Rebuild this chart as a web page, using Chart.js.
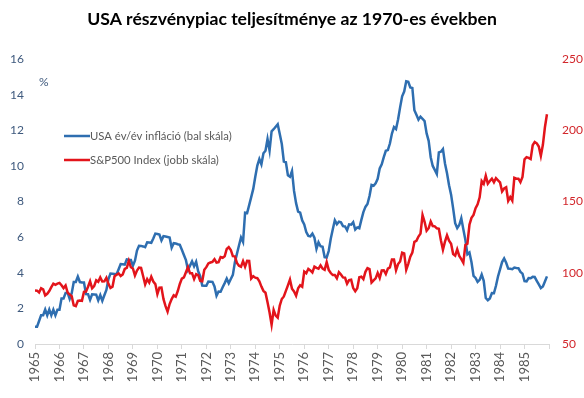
<!DOCTYPE html>
<html>
<head>
<meta charset="utf-8">
<script src="https://cdn.jsdelivr.net/npm/chart.js@4/dist/chart.umd.min.js"></script>
<style>
html,body{margin:0;padding:0;background:#fff;}
#wrap{width:584px;height:398px;position:relative;}
</style>
</head>
<body>
<div id="wrap"><canvas id="c" width="584" height="398"></canvas></div>
<script>
// ---- data (monthly, Jan 1965 .. Dec 1985) ----
const startYear = 1965;
const xTickYears = [1965,1966,1967,1968,1969,1970,1971,1972,1973,1974,1975,1976,1977,1978,1979,1980,1981,1982,1983,1984,1985];
const titleText = 'USA részvénypiac teljesítménye az 1970-es években';
const seriesNames = ['USA év/év infláció (bal skála)', 'S&P500 Index (jobb skála)'];

// USA y/y inflation, %
const inflation = [
 0.97,0.97,1.29,1.62,1.62,1.94,1.61,1.94,1.61,1.93,1.61,1.92,
 1.92,2.56,2.56,2.87,2.87,2.53,2.85,3.48,3.48,3.79,3.48,3.46,
 3.46,2.81,2.80,2.48,2.79,2.78,2.77,2.45,2.75,2.43,2.74,3.04,
 3.65,3.95,3.94,3.93,3.92,4.20,4.49,4.48,4.46,4.75,4.73,4.72,
 4.40,4.68,5.25,5.52,5.51,5.48,5.44,5.71,5.70,5.68,5.93,6.20,
 6.18,6.15,5.82,6.06,6.04,6.01,5.98,5.41,5.66,5.64,5.60,5.57,
 5.29,5.00,4.71,4.16,4.40,4.64,4.36,4.62,4.08,3.81,3.28,3.27,
 3.27,3.51,3.50,3.49,3.23,2.71,2.95,2.94,3.19,3.42,3.67,3.41,
 3.65,3.88,4.59,5.06,5.53,5.98,5.73,7.38,7.36,7.80,8.25,8.71,
 9.39,10.02,10.39,10.09,10.71,10.86,11.51,10.86,11.95,12.06,12.20,12.34,
 11.80,11.23,10.25,10.21,9.47,9.39,9.72,8.60,7.91,7.44,7.38,6.94,
 6.72,6.29,6.07,6.05,6.20,5.97,5.35,5.71,5.49,5.46,4.88,4.86,
 5.22,5.91,6.44,6.95,6.73,6.87,6.83,6.62,6.60,6.39,6.72,6.70,
 6.84,6.43,6.55,6.50,6.97,7.41,7.70,7.86,8.31,8.93,8.89,9.02,
 9.28,9.86,10.09,10.49,10.85,10.89,11.26,11.82,12.18,12.07,12.61,13.29,
 13.91,14.18,14.76,14.73,14.41,14.38,13.13,12.87,12.60,12.77,12.65,12.52,
 11.83,11.41,10.49,10.00,9.78,9.55,10.76,10.80,10.95,10.14,9.59,8.92,
 8.39,7.62,6.78,6.51,6.68,7.06,6.44,5.85,5.04,5.14,4.59,3.83,
 3.71,3.49,3.60,3.90,3.55,2.58,2.46,2.56,2.86,2.85,3.27,3.79,
 4.19,4.60,4.80,4.56,4.23,4.22,4.20,4.29,4.27,4.26,4.05,3.95,
 3.53,3.52,3.70,3.69,3.77,3.76,3.55,3.35,3.14,3.23,3.51,3.80
];

// S&P500 index, monthly close
const sp500 = [
 87.56,87.43,86.16,89.11,88.42,84.12,85.25,87.17,89.96,92.42,91.61,92.43,
 92.88,91.22,89.23,91.06,86.13,84.74,83.60,77.10,76.56,80.20,80.45,80.33,
 86.61,86.78,90.20,94.01,89.08,90.64,94.75,93.64,96.71,93.90,94.00,96.47,
 92.24,89.36,90.20,97.59,98.68,99.58,97.74,98.86,102.67,103.41,108.37,103.86,
 103.01,98.13,101.51,103.69,103.46,97.71,91.83,95.51,93.12,97.24,93.81,92.06,
 85.02,89.50,89.63,81.52,76.55,72.72,78.05,81.52,84.21,83.25,87.20,92.15,
 95.88,96.75,100.31,103.95,99.63,99.70,95.58,99.03,98.34,94.23,93.99,102.09,
 103.94,106.57,107.20,107.67,109.53,107.14,107.39,111.09,110.55,111.58,116.67,118.05,
 116.03,111.68,111.52,106.97,104.95,104.26,108.22,104.25,108.43,108.29,95.96,97.55,
 96.57,96.22,93.98,90.31,87.28,86.00,79.31,72.15,63.54,73.90,69.97,68.56,
 76.98,81.59,83.36,87.30,91.15,95.19,88.75,86.88,83.87,89.04,91.24,90.19,
 100.86,99.71,102.77,101.64,100.18,104.28,103.44,102.91,105.24,102.90,102.10,107.46,
 102.03,99.82,98.42,98.44,96.12,100.48,98.85,96.77,96.53,92.34,94.83,95.10,
 89.25,87.04,89.21,96.83,97.24,95.53,100.68,103.29,102.54,93.15,94.70,96.11,
 99.93,96.28,101.59,101.76,99.08,102.91,103.81,109.32,109.32,101.82,106.16,107.94,
 114.16,113.66,102.09,106.29,111.24,114.24,121.67,122.38,125.46,127.47,140.52,135.76,
 129.55,131.27,136.00,132.81,132.59,131.21,130.92,122.79,116.18,121.89,126.35,122.55,
 120.40,113.11,111.96,116.44,111.88,109.61,107.09,119.51,120.42,133.71,138.54,140.64,
 145.30,148.06,152.96,164.42,162.39,168.11,162.56,164.40,166.07,163.55,166.40,164.93,
 163.41,157.06,159.18,160.05,150.55,153.18,150.66,166.68,166.10,166.09,163.58,167.24,
 179.63,181.18,180.66,179.83,189.55,191.85,190.92,188.63,182.08,189.82,202.17,211.28
];

const toPoints = arr => arr.map((v, i) => ({ x: startYear + i / 12, y: v }));

const FONT = 'Lato, "Open Sans", "Liberation Sans", sans-serif';
const BLUE = '#2E6EB0';
const RED = '#E3141B';

const overlayPlugin = {
  id: 'overlay',
  afterDraw(chart) {
    const ctx = chart.ctx;
    ctx.save();
    // % label
    ctx.font = '12px ' + FONT;
    ctx.fillStyle = '#3F5A7E';
    ctx.textAlign = 'left';
    ctx.textBaseline = 'middle';
    ctx.fillText('%', 39, 82);
    // legend
    const ys = [136, 160];
    chart.data.datasets.forEach((ds, i) => {
      ctx.strokeStyle = ds.borderColor;
      ctx.lineWidth = 2.5;
      ctx.beginPath();
      ctx.moveTo(64, ys[i]);
      ctx.lineTo(90, ys[i]);
      ctx.stroke();
      ctx.fillStyle = '#595959';
      ctx.font = '11.3px ' + FONT;
      ctx.fillText(ds.label, 90, ys[i]);
    });
    ctx.restore();
  }
};

new Chart(document.getElementById('c'), {
  type: 'line',
  data: {
    datasets: [
      { label: seriesNames[0], data: toPoints(inflation), yAxisID: 'y', borderColor: BLUE, backgroundColor: BLUE, borderWidth: 2.5, pointRadius: 0, tension: 0, order: 1 },
      { label: seriesNames[1], data: toPoints(sp500), yAxisID: 'y1', borderColor: RED, backgroundColor: RED, borderWidth: 2.5, pointRadius: 0, tension: 0, order: 0 }
    ]
  },
  options: {
    responsive: false,
    animation: false,
    events: [],
    layout: { padding: { top: 0, right: 0, left: 0, bottom: 0 } },
    plugins: {
      legend: { display: false },
      tooltip: { enabled: false },
      title: {
        display: true,
        text: titleText,
        color: '#000000',
        font: { family: FONT, size: 17.6, weight: 'bold' },
        padding: { top: 9, bottom: 29 }
      }
    },
    scales: {
      x: {
        type: 'linear',
        min: 1965,
        max: 1986,
        afterFit: s => { s.height = 54; },
        afterBuildTicks: s => {
          s.ticks = xTickYears.concat([1986]).map(v => ({ value: v }));
        },
        ticks: {
          autoSkip: false,
          minRotation: 90,
          maxRotation: 90,
          color: '#595959',
          font: { family: FONT, size: 13 },
          padding: 3,
          callback: v => (xTickYears.includes(v) ? String(v) : '')
        },
        grid: { display: true, drawOnChartArea: false, drawTicks: true, tickLength: 5, color: '#D9D9D9' },
        border: { display: true, color: '#D9D9D9' }
      },
      y: {
        position: 'left',
        min: 0,
        max: 16,
        afterFit: s => { s.width = 35; },
        ticks: { stepSize: 2, color: '#3F5A7E', font: { family: FONT, size: 12 }, padding: 11 },
        grid: { display: false, drawTicks: false },
        border: { display: false }
      },
      y1: {
        position: 'right',
        min: 50,
        max: 250,
        afterFit: s => { s.width = 35; },
        ticks: { stepSize: 50, color: '#D2262B', font: { family: FONT, size: 12 }, padding: 13 },
        grid: { display: false, drawTicks: false },
        border: { display: false }
      }
    }
  },
  plugins: [overlayPlugin]
});
</script>
</body>
</html>
